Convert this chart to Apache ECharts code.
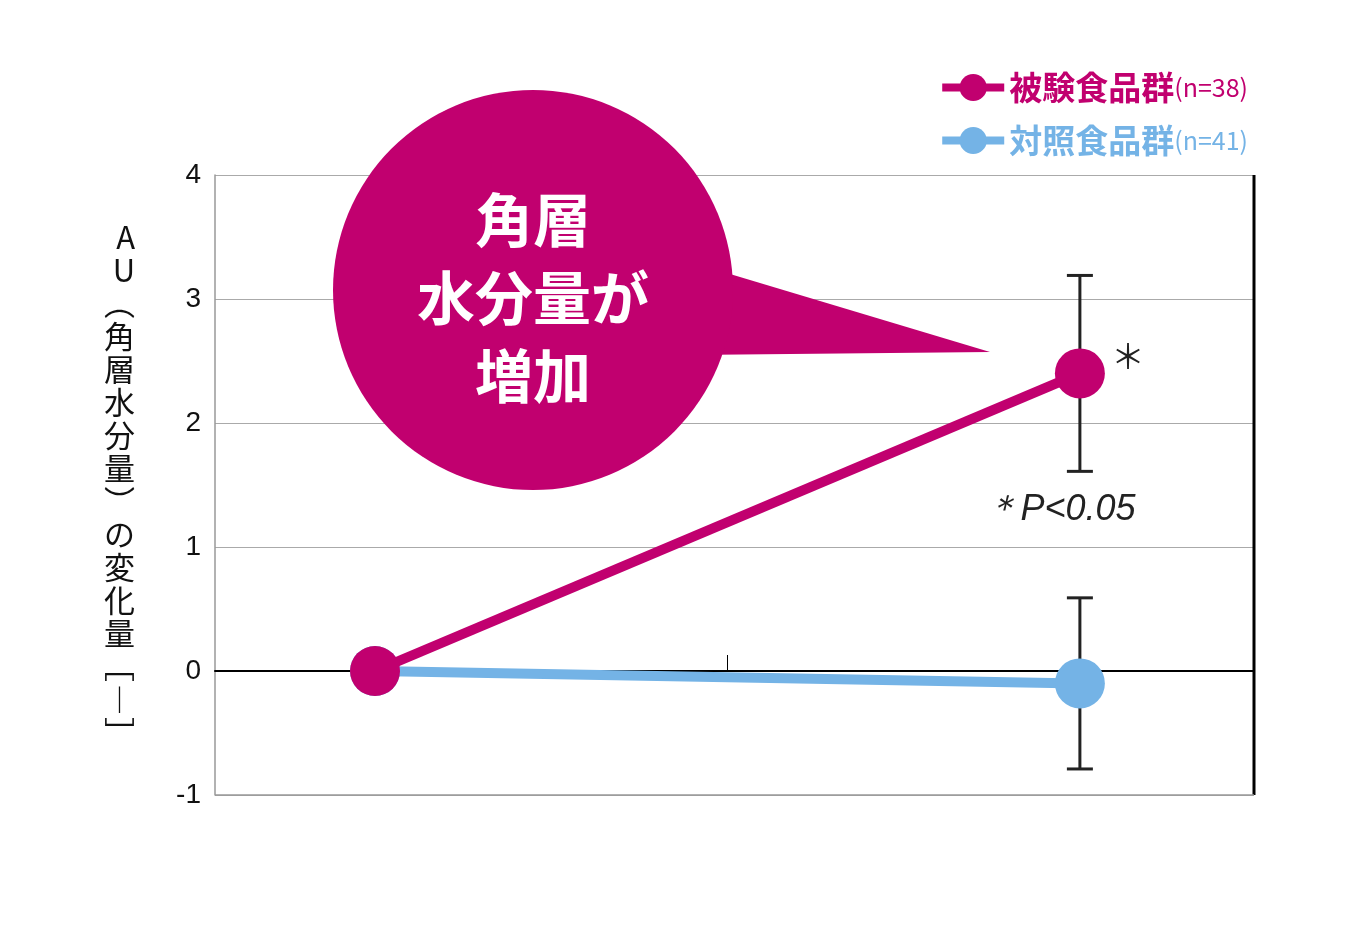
<!DOCTYPE html><html><head><meta charset="utf-8"><script src="https://cdn.jsdelivr.net/npm/echarts@6/dist/echarts.min.js"></script>
<style>body{margin:0}#c{width:1358px;height:941px}</style></head><body><div id="c"></div><script>
const categories=['摂取前','摂取4週間後'];
const testVals=[0,2.4], testErr=[0,0.79];
const ctrlVals=[0,-0.1], ctrlErr=[0,0.69];
const yTicks=[-1,0,1,2,3,4];
const C1='#c1006f',C2='#74b3e6';
const F='"Noto Sans CJK JP","Noto Sans",sans-serif';
const chart=echarts.init(document.getElementById('c'));
function errSeries(vals,errs,z){return{type:'custom',z:z,data:vals.map((v,i)=>[i,v,errs[i]]).filter(d=>d[2]>0),
renderItem:(p,api)=>{const x=api.value(0),v=api.value(1),e=api.value(2);const t=api.coord([x,v+e]),b=api.coord([x,v-e]);const w=13;
return{type:'group',children:[{type:'line',shape:{x1:t[0],y1:t[1],x2:b[0],y2:b[1]},style:{stroke:'#222',lineWidth:3}},
{type:'line',shape:{x1:t[0]-w,y1:t[1],x2:t[0]+w,y2:t[1]},style:{stroke:'#222',lineWidth:3}},
{type:'line',shape:{x1:b[0]-w,y1:b[1],x2:b[0]+w,y2:b[1]},style:{stroke:'#222',lineWidth:3}}]};}};}
const legRich={a:{fontSize:33,fontWeight:'bold',fontFamily:F},b:{fontSize:25,fontFamily:F}};
chart.setOption({animation:false,
grid:{left:215,right:104,top:175,bottom:146,outerBoundsMode:'none',containLabel:false},
legend:{orient:'vertical',right:105,top:66,itemWidth:62,itemHeight:34,itemGap:20,
data:[{name:'被験食品群',textStyle:{color:C1},itemStyle:{color:C1},lineStyle:{width:8}},{name:'対照食品群',textStyle:{color:C2},lineStyle:{width:8}}],
formatter:n=>'{a|'+n+'}{b|'+(n==='被験食品群'?'(n=38)':'(n=41)')+'}',textStyle:{rich:legRich}},
xAxis:{type:'value',min:-0.227,max:1.247,
axisLine:{onZero:true,lineStyle:{color:'#000',width:2}},
axisTick:{show:true,inside:true,length:16,customValues:[0.5],lineStyle:{color:'#000',width:1}},
axisLabel:{customValues:[0,1],formatter:v=>categories[Math.round(v)],fontSize:42,fontWeight:'bold',fontFamily:F,color:'#222',margin:158},
splitLine:{show:false}},
yAxis:{type:'value',min:-1,max:4,interval:1,
axisLine:{show:true,onZero:false,lineStyle:{color:'#999',width:1.5}},axisTick:{show:false},
axisLabel:{fontSize:28,color:'#111',fontFamily:'Liberation Sans',margin:14},
splitLine:{lineStyle:{color:'#aaa',width:1.2}},
name:'AU︵角層水分量︶の変化量﹇︱﹈'.split('').join('\n'),nameLocation:'middle',nameRotate:0,nameGap:80,
nameTextStyle:{fontSize:31,lineHeight:33,color:'#111',fontFamily:F,padding:[24,0,0,0]}},
graphic:[
{type:'line',shape:{x1:1254,y1:175,x2:1254,y2:795},style:{stroke:'#000',lineWidth:3},z:5},
{type:'line',shape:{x1:215,y1:795,x2:1254,y2:795},style:{stroke:'#999',lineWidth:1.5},z:5},
{type:'polygon',shape:{points:[[700,265],[990,352],[690,355]]},style:{fill:C1},z:10},
{type:'circle',shape:{cx:533,cy:290,r:200},style:{fill:C1},z:10},
{type:'text',x:533,y:298,z:11,style:{text:'角層\n水分量が\n増加',fill:'#fff',fontSize:58,fontWeight:'bold',lineHeight:78,align:'center',verticalAlign:'middle',fontFamily:F}},
{type:'text',x:1128,y:356,z:11,style:{text:'＊',fill:'#222',fontSize:34,align:'center',verticalAlign:'middle',fontFamily:F}},
{type:'text',x:1060,y:510,z:11,style:{text:'＊P<0.05',fill:'#222',fontSize:36,fontStyle:'italic',align:'center',verticalAlign:'middle',fontFamily:'Liberation Sans'}}
],
series:[
{name:'対照食品群',type:'line',z:3,data:ctrlVals.map((v,i)=>[i,v]),lineStyle:{color:C2,width:10},itemStyle:{color:C2},symbol:'circle',symbolSize:50},
{name:'被験食品群',type:'line',z:4,data:testVals.map((v,i)=>[i,v]),lineStyle:{color:C1,width:10},itemStyle:{color:C1},symbol:'circle',symbolSize:50},
errSeries(testVals,testErr,2),errSeries(ctrlVals,ctrlErr,2)]});
</script></body></html>
